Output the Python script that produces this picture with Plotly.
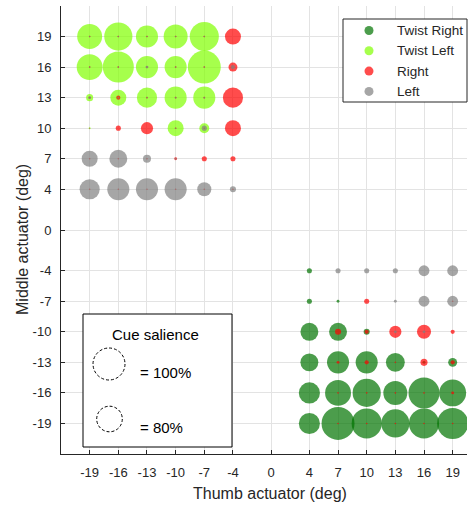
import plotly.graph_objects as go

# ---------------- data ----------------
tick_vals = [-19, -16, -13, -10, -7, -4, 0, 4, 7, 10, 13, 16, 19]
tick_text = [str(v) for v in tick_vals]

series_names = ["Twist Right", "Twist Left", "Right", "Left"]

# upper-left block: thumb -19..-4, middle 19..4
thumb_ul = [-19, -16, -13, -10, -7, -4]
middle_ul = [19, 16, 13, 10, 7, 4]
# lower-right block: thumb 4..19, middle -4..-19
thumb_lr = [4, 7, 10, 13, 16, 19]
middle_lr = [-4, -7, -10, -13, -16, -19]

# cue salience (%) per cell, rows = middle values, cols = thumb values
twist_right_ul = [[0] * 6 for _ in range(6)]
twist_left_ul = [
    [78, 88, 69, 75, 91, 0],
    [81, 97, 69, 69, 103, 0],
    [22, 50, 63, 69, 69, 0],
    [6, 0, 0, 50, 31, 0],
    [0, 0, 0, 0, 0, 0],
    [0, 0, 0, 0, 0, 0],
]
right_ul = [
    [5, 5, 5, 5, 5, 50],
    [5, 5, 5, 5, 5, 28],
    [6, 13, 5, 5, 5, 63],
    [3, 16, 38, 5, 5, 50],
    [5, 5, 5, 9, 16, 16],
    [5, 5, 5, 5, 5, 5],
]
left_ul = [
    [5, 5, 5, 5, 5, 0],
    [5, 5, 9, 5, 5, 13],
    [9, 5, 5, 6, 6, 0],
    [3, 0, 0, 5, 16, 0],
    [50, 56, 25, 6, 0, 0],
    [63, 69, 69, 69, 44, 19],
]

twist_right_lr = [
    [16, 0, 0, 0, 0, 0],
    [16, 9, 0, 0, 0, 0],
    [56, 56, 19, 0, 0, 0],
    [56, 69, 69, 59, 9, 28],
    [66, 81, 88, 75, 97, 84],
    [66, 103, 94, 88, 94, 97],
]
twist_left_lr = [[0] * 6 for _ in range(6)]
right_lr = [
    [0, 0, 0, 0, 0, 0],
    [0, 0, 16, 0, 0, 5],
    [0, 19, 13, 38, 44, 13],
    [0, 9, 13, 5, 22, 13],
    [0, 5, 5, 5, 5, 9],
    [0, 5, 5, 5, 5, 5],
]
left_lr = [
    [0, 16, 16, 16, 34, 34],
    [0, 0, 0, 9, 34, 34],
    [0, 0, 0, 9, 9, 0],
    [0, 0, 0, 0, 0, 0],
    [0, 0, 0, 0, 0, 0],
    [0, 0, 0, 0, 0, 0],
]

ref_saliences = [100, 80]

# ---------------- styling ----------------
colors = ["rgb(0,115,0)", "rgb(128,255,0)", "rgb(255,0,0)", "rgb(128,128,128)"]
legend_colors = ["rgba(0,115,0,0.7)", "rgba(128,255,0,0.7)", "rgba(255,0,0,0.7)", "rgba(128,128,128,0.7)"]
OPACITY = 0.7
PX_PER_PCT = 0.32  # marker diameter (px) per % salience
FONT = "Liberation Sans, Arial, sans-serif"
TXT = "#262626"

W, H = 468, 507
L, R, T, B = 61, 467, 6, 454


def pxx(p):
    return (p - L) / (R - L)


def pxy(p):
    return (B - p) / (B - T)


def collect(block_ul, block_lr):
    xs, ys, ss = [], [], []
    for blk, th, mi in ((block_ul, thumb_ul, middle_ul), (block_lr, thumb_lr, middle_lr)):
        for i, m in enumerate(mi):
            for j, t in enumerate(th):
                v = blk[i][j]
                if v > 0:
                    xs.append(t)
                    ys.append(m)
                    ss.append(v * PX_PER_PCT)
    return xs, ys, ss


blocks = [
    (twist_right_ul, twist_right_lr),
    (twist_left_ul, twist_left_lr),
    (right_ul, right_lr),
    (left_ul, left_lr),
]

fig = go.Figure()
for name, col, (bu, bl) in zip(series_names, colors, blocks):
    xs, ys, ss = collect(bu, bl)
    fig.add_trace(go.Scatter(
        x=xs, y=ys, mode="markers", name=name, showlegend=False,
        marker=dict(size=ss, color=col, opacity=OPACITY, line=dict(width=0)),
        hoverinfo="skip",
    ))

axis_common = dict(
    tickmode="array", tickvals=tick_vals, ticktext=tick_text,
    showgrid=True, gridcolor="#e3e3e3", gridwidth=1,
    zeroline=False, showline=True, linecolor=TXT, linewidth=1,
    ticks="inside", ticklen=4, tickcolor=TXT,
    tickfont=dict(family=FONT, size=13, color=TXT),
    fixedrange=True,
)

fig.update_layout(
    width=W, height=H,
    margin=dict(l=L, r=W - R, t=T, b=H - B, pad=0),
    paper_bgcolor="white", plot_bgcolor="white",
    xaxis=dict(range=[-22, 20.5], ticklabelstandoff=6, **axis_common),
    yaxis=dict(range=[-22, 22], ticklabelstandoff=6, **axis_common),
    font=dict(family=FONT, color=TXT),
    showlegend=False,
)

# axis titles
fig.add_annotation(text="Thumb actuator (deg)", xref="paper", yref="paper",
                   x=pxx(270), y=pxy(493), xanchor="center", yanchor="middle",
                   showarrow=False, font=dict(family=FONT, size=16, color=TXT))
fig.add_annotation(text="Middle actuator (deg)", xref="paper", yref="paper",
                   x=pxx(22), y=pxy(240), xanchor="center", yanchor="middle",
                   showarrow=False, textangle=-90,
                   font=dict(family=FONT, size=16, color=TXT))

# series legend (top right)
fig.add_shape(type="rect", xref="paper", yref="paper",
              x0=pxx(343), x1=pxx(467), y0=pxy(102), y1=pxy(19),
              line=dict(color=TXT, width=1), fillcolor="white", layer="above")
leg_y = [30.5, 50.8, 71.1, 91.4]
for name, col, ly in zip(series_names, legend_colors, leg_y):
    r = 4.5
    fig.add_shape(type="circle", xref="paper", yref="paper",
                  x0=pxx(369 - r), x1=pxx(369 + r), y0=pxy(ly + r), y1=pxy(ly - r),
                  line=dict(width=0), fillcolor=col, layer="above")
    fig.add_annotation(text=name, xref="paper", yref="paper",
                       x=pxx(395), y=pxy(ly), xanchor="left", yanchor="middle",
                       showarrow=False, font=dict(family=FONT, size=13.5, color=TXT))

# cue salience box
fig.add_shape(type="rect", xref="paper", yref="paper",
              x0=pxx(83), x1=pxx(232), y0=pxy(447), y1=pxy(314),
              line=dict(color="black", width=1), fillcolor="white", layer="above")
fig.add_annotation(text="Cue salience", xref="paper", yref="paper",
                   x=pxx(155), y=pxy(334), xanchor="center", yanchor="middle",
                   showarrow=False, font=dict(family=FONT, size=15, color="black"))
circle_centers = [(109, 364), (109.5, 419)]
label_y = [372, 427]
for sal, (cx, cy), ly in zip(ref_saliences, circle_centers, label_y):
    d = sal * PX_PER_PCT
    fig.add_shape(type="circle", xref="paper", yref="paper",
                  x0=pxx(cx - d / 2), x1=pxx(cx + d / 2),
                  y0=pxy(cy + d / 2), y1=pxy(cy - d / 2),
                  line=dict(color="black", width=1, dash="3px,2px"), layer="above")
    fig.add_annotation(text="= %d%%" % sal, xref="paper", yref="paper",
                       x=pxx(138), y=pxy(ly), xanchor="left", yanchor="middle",
                       showarrow=False, font=dict(family=FONT, size=15, color="black"))

fig.write_html("out.html", config={"displayModeBar": False},
               post_script="document.body.style.margin='0';")
